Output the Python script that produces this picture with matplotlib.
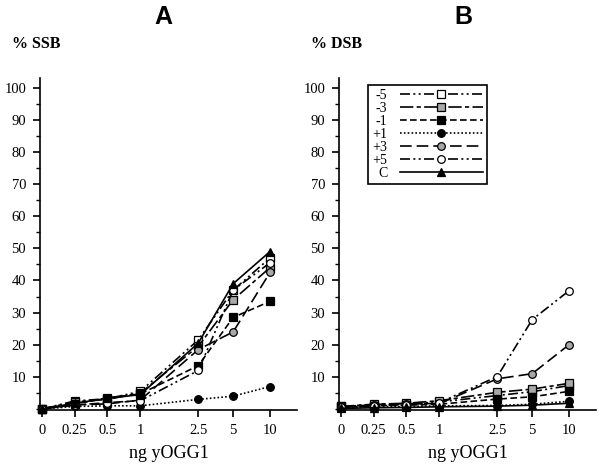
import matplotlib

matplotlib.use("Agg")
import matplotlib.pyplot as plt
from matplotlib.ticker import MultipleLocator

# ng yOGG1 doses (categorical axis, non-linear spacing in the original figure)
doses = ["0", "0.25", "0.5", "1", "2.5", "5", "10"]
series_labels = ["-5", "-3", "-1", "+1", "+3", "+5", "C"]

# Panel A: % SSB
ssb_m5 = [0, 2.5, 3.2, 5.5, 21.5, 37.0, 47.0]
ssb_m3 = [0, 2.2, 3.0, 5.0, 19.5, 34.0, 44.0]
ssb_m1 = [0, 1.5, 3.5, 4.7, 13.5, 28.5, 33.5]
ssb_p1 = [0, 0.8, 1.0, 1.0, 3.0, 4.0, 7.0]
ssb_p3 = [0, 1.3, 1.6, 2.8, 18.5, 24.0, 42.5]
ssb_p5 = [0, 1.2, 2.0, 2.6, 12.0, 37.0, 45.5]
ssb_c = [0, 1.8, 3.3, 4.5, 20.5, 39.0, 49.0]

# Panel B: % DSB
dsb_m5 = [0.8, 1.3, 1.6, 2.2, 4.2, 5.4, 7.3]
dsb_m3 = [0.8, 1.5, 1.8, 2.6, 5.2, 6.2, 8.0]
dsb_m1 = [0.6, 1.0, 1.2, 1.5, 3.1, 3.8, 5.5]
dsb_p1 = [0.3, 0.6, 0.8, 1.0, 1.1, 1.5, 2.4]
dsb_p3 = [0.5, 1.4, 1.7, 1.7, 9.4, 11.0, 20.0]
dsb_p5 = [0.5, 1.0, 1.4, 2.0, 10.1, 27.8, 36.8]
dsb_c = [0.2, 0.4, 0.5, 0.7, 0.9, 1.2, 1.8]

# axis placement of the dose categories (layout only)
XPOS = [0, 1, 2, 3, 4.76, 5.82, 6.94]
HATCH = "#a8a8a8"
STYLES = [
    # (linestyle, marker, facecolor)
    ((0, (6, 2, 1.2, 2, 1.2, 2)), "s", "white"),
    ((0, (8, 2, 2.5, 2)), "s", HATCH),
    ((0, (4, 2)), "s", "black"),
    ((0, (1, 1.3)), "o", "black"),
    ((0, (7, 3)), "o", HATCH),
    ((0, (6, 2, 1.2, 2, 1.2, 2)), "o", "white"),
    ("-", "^", "black"),
]

plt.rcParams.update({
    "font.family": "Liberation Serif", "font.size": 10.5,
    "axes.linewidth": 1.2, "xtick.major.width": 1.2, "ytick.major.width": 1.2,
    "ytick.minor.width": 1.0,
})

fig = plt.figure(figsize=(6.0, 4.65), dpi=100)
ax_a = fig.add_axes([40 / 600, 1 - 410 / 465, 257 / 600, 332 / 465])
ax_b = fig.add_axes([339 / 600, 1 - 410 / 465, 257 / 600, 332 / 465])

panels = [
    (ax_a, [ssb_m5, ssb_m3, ssb_m1, ssb_p1, ssb_p3, ssb_p5, ssb_c]),
    (ax_b, [dsb_m5, dsb_m3, dsb_m1, dsb_p1, dsb_p3, dsb_p5, dsb_c]),
]
for ax, data in panels:
    for vals, lab, (ls, mk, fc) in zip(data, series_labels, STYLES):
        ax.plot(XPOS, vals, color="black", ls=ls, lw=1.2, marker=mk, ms=5.5,
                mfc=fc, mec="black", mew=0.9, label=lab, clip_on=False)
    ax.set_xlim(-0.05, 7.76)
    ax.set_ylim(-0.3, 103)
    ax.set_xticks(XPOS)
    ax.set_xticklabels(doses)
    ax.set_yticks(range(10, 101, 10))
    ax.yaxis.set_minor_locator(MultipleLocator(5))
    ax.tick_params(axis="both", direction="out", length=5, pad=5)
    ax.tick_params(axis="y", which="minor", length=3)
    ax.spines["top"].set_visible(False)
    ax.spines["right"].set_visible(False)
    ax.set_xlabel("ng yOGG1", fontsize=13, labelpad=6)

fig.text(163 / 600, 1 - 17 / 465, "A", family="Liberation Sans", weight="bold",
         fontsize=18, ha="center", va="center")
fig.text(463 / 600, 1 - 17 / 465, "B", family="Liberation Sans", weight="bold",
         fontsize=18, ha="center", va="center")
fig.text(12 / 600, 1 - 44 / 465, "% SSB", weight="bold", fontsize=11.5, va="center")
fig.text(311 / 600, 1 - 44 / 465, "% DSB", weight="bold", fontsize=11.5, va="center")

leg = ax_b.legend(loc="upper left", bbox_to_anchor=(0.113, 0.979), markerfirst=False,
                  prop={"family": "Liberation Serif", "size": 10},
                  handlelength=6.0, handletextpad=0.9, labelspacing=0.0,
                  borderpad=0.3, fancybox=False, framealpha=1, edgecolor="black",
                  numpoints=1, borderaxespad=0)
leg.get_frame().set_linewidth(1.2)

fig.savefig("out.png", dpi=100)
